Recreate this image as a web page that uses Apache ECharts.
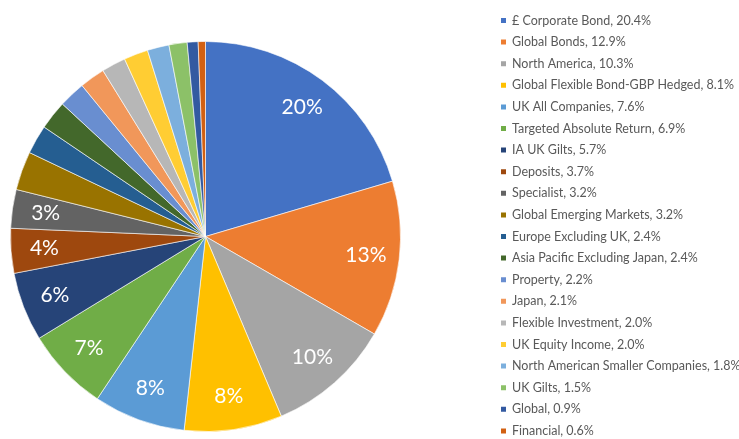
<!DOCTYPE html>
<html><head><meta charset="utf-8">
<script src="https://cdn.jsdelivr.net/npm/echarts@6/dist/echarts.min.js"></script>
<style>html,body{margin:0;padding:0;background:#fff}#c{width:739px;height:439px}</style>
</head><body><div id="c"></div>
<script>
const categories = ["£ Corporate Bond","Global Bonds","North America","Global Flexible Bond-GBP Hedged","UK All Companies","Targeted Absolute Return","IA UK Gilts","Deposits","Specialist","Global Emerging Markets","Europe Excluding UK","Asia Pacific Excluding Japan","Property","Japan","Flexible Investment","UK Equity Income","North American Smaller Companies","UK Gilts","Global","Financial"];
const values = [20.4,12.9,10.3,8.1,7.6,6.9,5.7,3.7,3.2,3.2,2.4,2.4,2.2,2.1,2.0,2.0,1.8,1.5,0.9,0.6];
const colors = ["#4472C4","#ED7D31","#A5A5A5","#FFC000","#5B9BD5","#70AD47","#264478","#9E480E","#636363","#997300","#255E91","#43682B","#698ED0","#F1975A","#B7B7B7","#FFCD33","#7CAFDD","#8CC168","#335AA1","#D26012"];
const labeledCount = 9;

const data = categories.map((n,i)=>({name:n,value:values[i],itemStyle:{color:colors[i]}}));
const labelData = categories.map((n,i)=>({name:n,value:values[i],label:{show:i<labeledCount}}));
const valMap = {}; categories.forEach((n,i)=>valMap[n]=values[i]);

const chart = echarts.init(document.getElementById('c'),null,{renderer:'canvas'});
chart.setOption({
  animation:false,
  legend:{
    orient:'vertical', left:494, top:9, padding:5, height:520,
    itemWidth:7, itemHeight:7, itemGap:8.6, icon:'rect',
    data:categories,
    formatter:n=>n+', '+valMap[n].toFixed(1)+'%',
    textStyle:{fontFamily:'Lato',fontSize:12.5,color:'#595959'},
    selectedMode:false
  },
  series:[
    {type:'pie',center:[205.5,236.5],radius:[0,195],startAngle:90,clockwise:true,
     data:data,label:{show:false},labelLine:{show:false},
     itemStyle:{borderColor:'#ffffff',borderWidth:0.6},
     emphasis:{disabled:true}},
    {type:'pie',center:[205.5,236.5],radius:[122,195],startAngle:90,clockwise:true,silent:true,
     data:labelData,
     itemStyle:{color:'rgba(0,0,0,0)'},
     label:{position:'inside',formatter:p=>Math.round(p.value)+'%',color:'#fff',fontFamily:'Lato',fontSize:21},
     labelLine:{show:false},emphasis:{disabled:true}}
  ]
});
</script></body></html>
